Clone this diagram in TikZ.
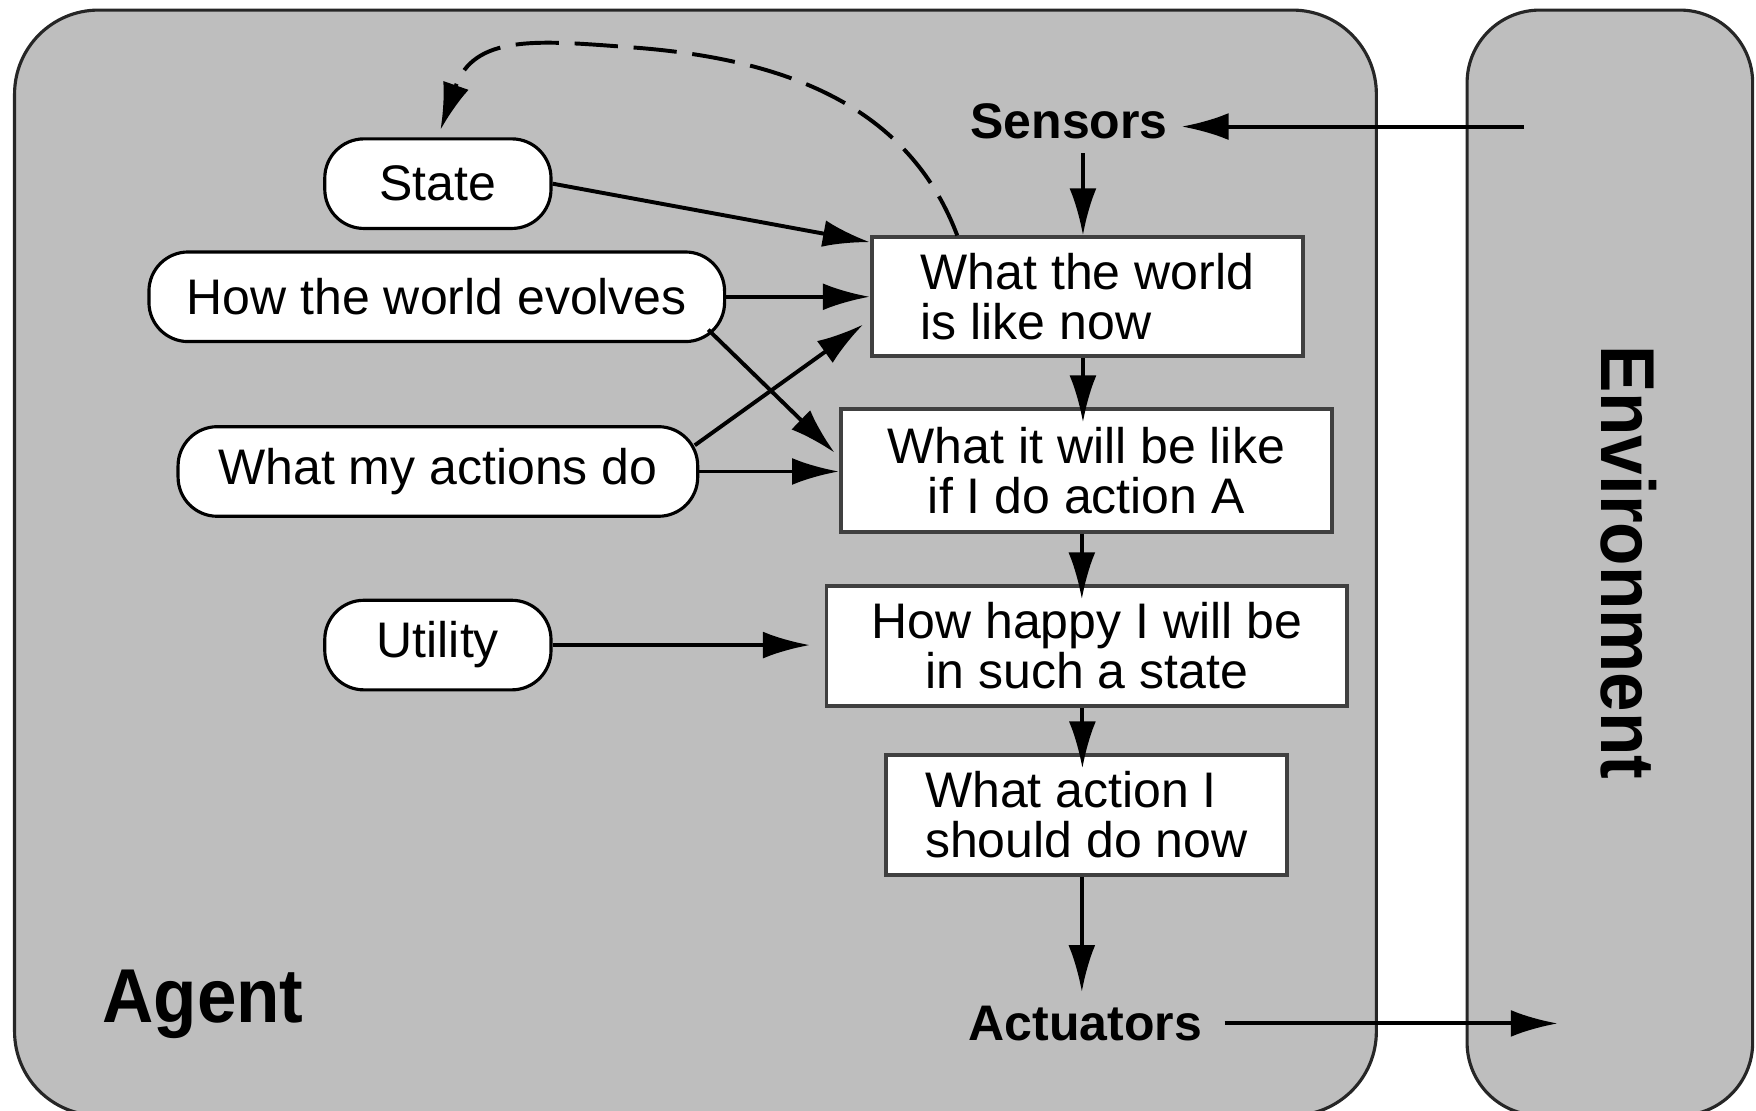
\documentclass[tikz,border=0pt]{standalone}
\usepackage{fontspec}
\setmainfont{Liberation Sans}
\newfontfamily\panelfont{Liberation Sans}[FakeStretch=0.93]
\usetikzlibrary{arrows.meta}
\definecolor{agentgray}{RGB}{190,190,190}
\tikzstyle{panel}=[draw=black!85, line width=0.8pt, fill=agentgray, rounded corners=0.75cm]
\tikzstyle{knowledge}=[draw, fill=white, line width=0.8pt, rounded corners=0.35cm,
    minimum height=0.8cm, inner sep=0pt, font=\fontsize{12.7}{12.8}\selectfont]
\tikzstyle{infobox}=[draw=black!75, fill=white, line width=1pt,
    minimum height=1.07cm, inner sep=0pt, font=\fontsize{12.7}{12.8}\selectfont]
\tikzstyle{io}=[anchor=base, font=\fontsize{12.7}{12.8}\selectfont\bfseries]
\tikzstyle{title}=[font=\panelfont\fontsize{19.4}{20}\selectfont\bfseries]
\tikzstyle{link}=[->, line width=1pt]
\newcommand{\shortbox}[2]{\node (#1) [infobox, minimum width=#2cm]}

\begin{document}
\begin{tikzpicture}[>={Latex[length=4.2mm,width=2.4mm]}]
    \useasboundingbox (0,0) rectangle (15.68,9.92);
    \draw [panel] (0.13,-0.04) rectangle (12.29,9.83);
    \draw [panel, rounded corners=0.65cm] (13.10,-0.04) rectangle (15.65,9.83);
    \node (agent) [title, anchor=base west] at (0.79,0.79) {Agent};
    \node (envlabel) [title, rotate=-90] at (14.54,4.90) {Environment};

    \node (sensors) [io] at (9.545,8.68) {Sensors};
    \node (actuators) [io] at (9.69,0.63) {Actuators};
    \shortbox{whatnow}{3.85} [minimum height=1.06cm, align=left] at (9.71,7.27) {What the world\\is like now};
    \shortbox{whatif}{4.38} [minimum height=1.10cm, align=center] at (9.70,5.72) {What it will be like\\ if I do action A};
    \shortbox{happy}{4.65} [align=center] at (9.705,4.155) {How happy I will be\\in such a state};
    \shortbox{action}{3.58} [align=left] at (9.70,2.645) {What action I\\should do now};

    \node (state) [knowledge, minimum width=2.02cm] at (3.91,8.28) {State};
    \node (evolves) [knowledge, minimum width=5.14cm] at (3.90,7.27) {How the world evolves};
    \node (actions) [knowledge, minimum width=4.64cm] at (3.91,5.71) {What my actions do};
    \node (utility) [knowledge, minimum width=2.02cm] at (3.91,4.16) {Utility};

    \coordinate (envin) at (13.61,8.79);
    \coordinate (envout) at (13.91,0.76);
    \coordinate (looptop) at (5.60,9.50);
    \draw [link] (envin) -- (envin -| sensors.east);
    \draw [link] ([xshift=-0.04cm]whatnow.north |- sensors.south) -- ([xshift=-0.04cm]whatnow.north);
    \foreach \from/\to in {whatnow/whatif, whatif/happy, happy/action}
        \draw [link, shorten >=-0.14cm] ([xshift=-0.04cm]\from.south) -- ([xshift=-0.04cm]\from.south |- \to.north);
    \draw [link] ([xshift=-0.04cm]action.south) -- ([xshift=-0.04cm]action.south |- actuators.north);
    \draw [link, shorten <=0.08cm] (actuators.east) -- (actuators.east -| envout);

    \draw [link] (state.east) -- ([yshift=-0.06cm]whatnow.north west);
    \draw [link] (evolves.east) -- (evolves.east -| whatnow.west);
    \draw [link] ([shift={(-0.16,0.12)}]evolves.south east) -- ([shift={(-0.04,-0.41)}]whatif.north west);
    \draw [link] ([shift={(-0.04,-0.18)}]actions.north east) -- ([shift={(-0.06,0.30)}]whatnow.south west);
    \draw [link] (actions.east) -- (actions.east -| whatif.west);
    \draw [link, shorten >=0.13cm] (utility.east) -- (utility.east -| happy.west);
    \draw [link, dash pattern=on 11pt off 4pt, shorten >=0.07cm] ([xshift=0.78cm]whatnow.north west)
        .. controls +(-0.46,1.22) and +(1.30,-0.09) .. (looptop)
        .. controls +(-0.80,0.06) and +(0.32,0.92) .. (state.north);
\end{tikzpicture}
\end{document}
